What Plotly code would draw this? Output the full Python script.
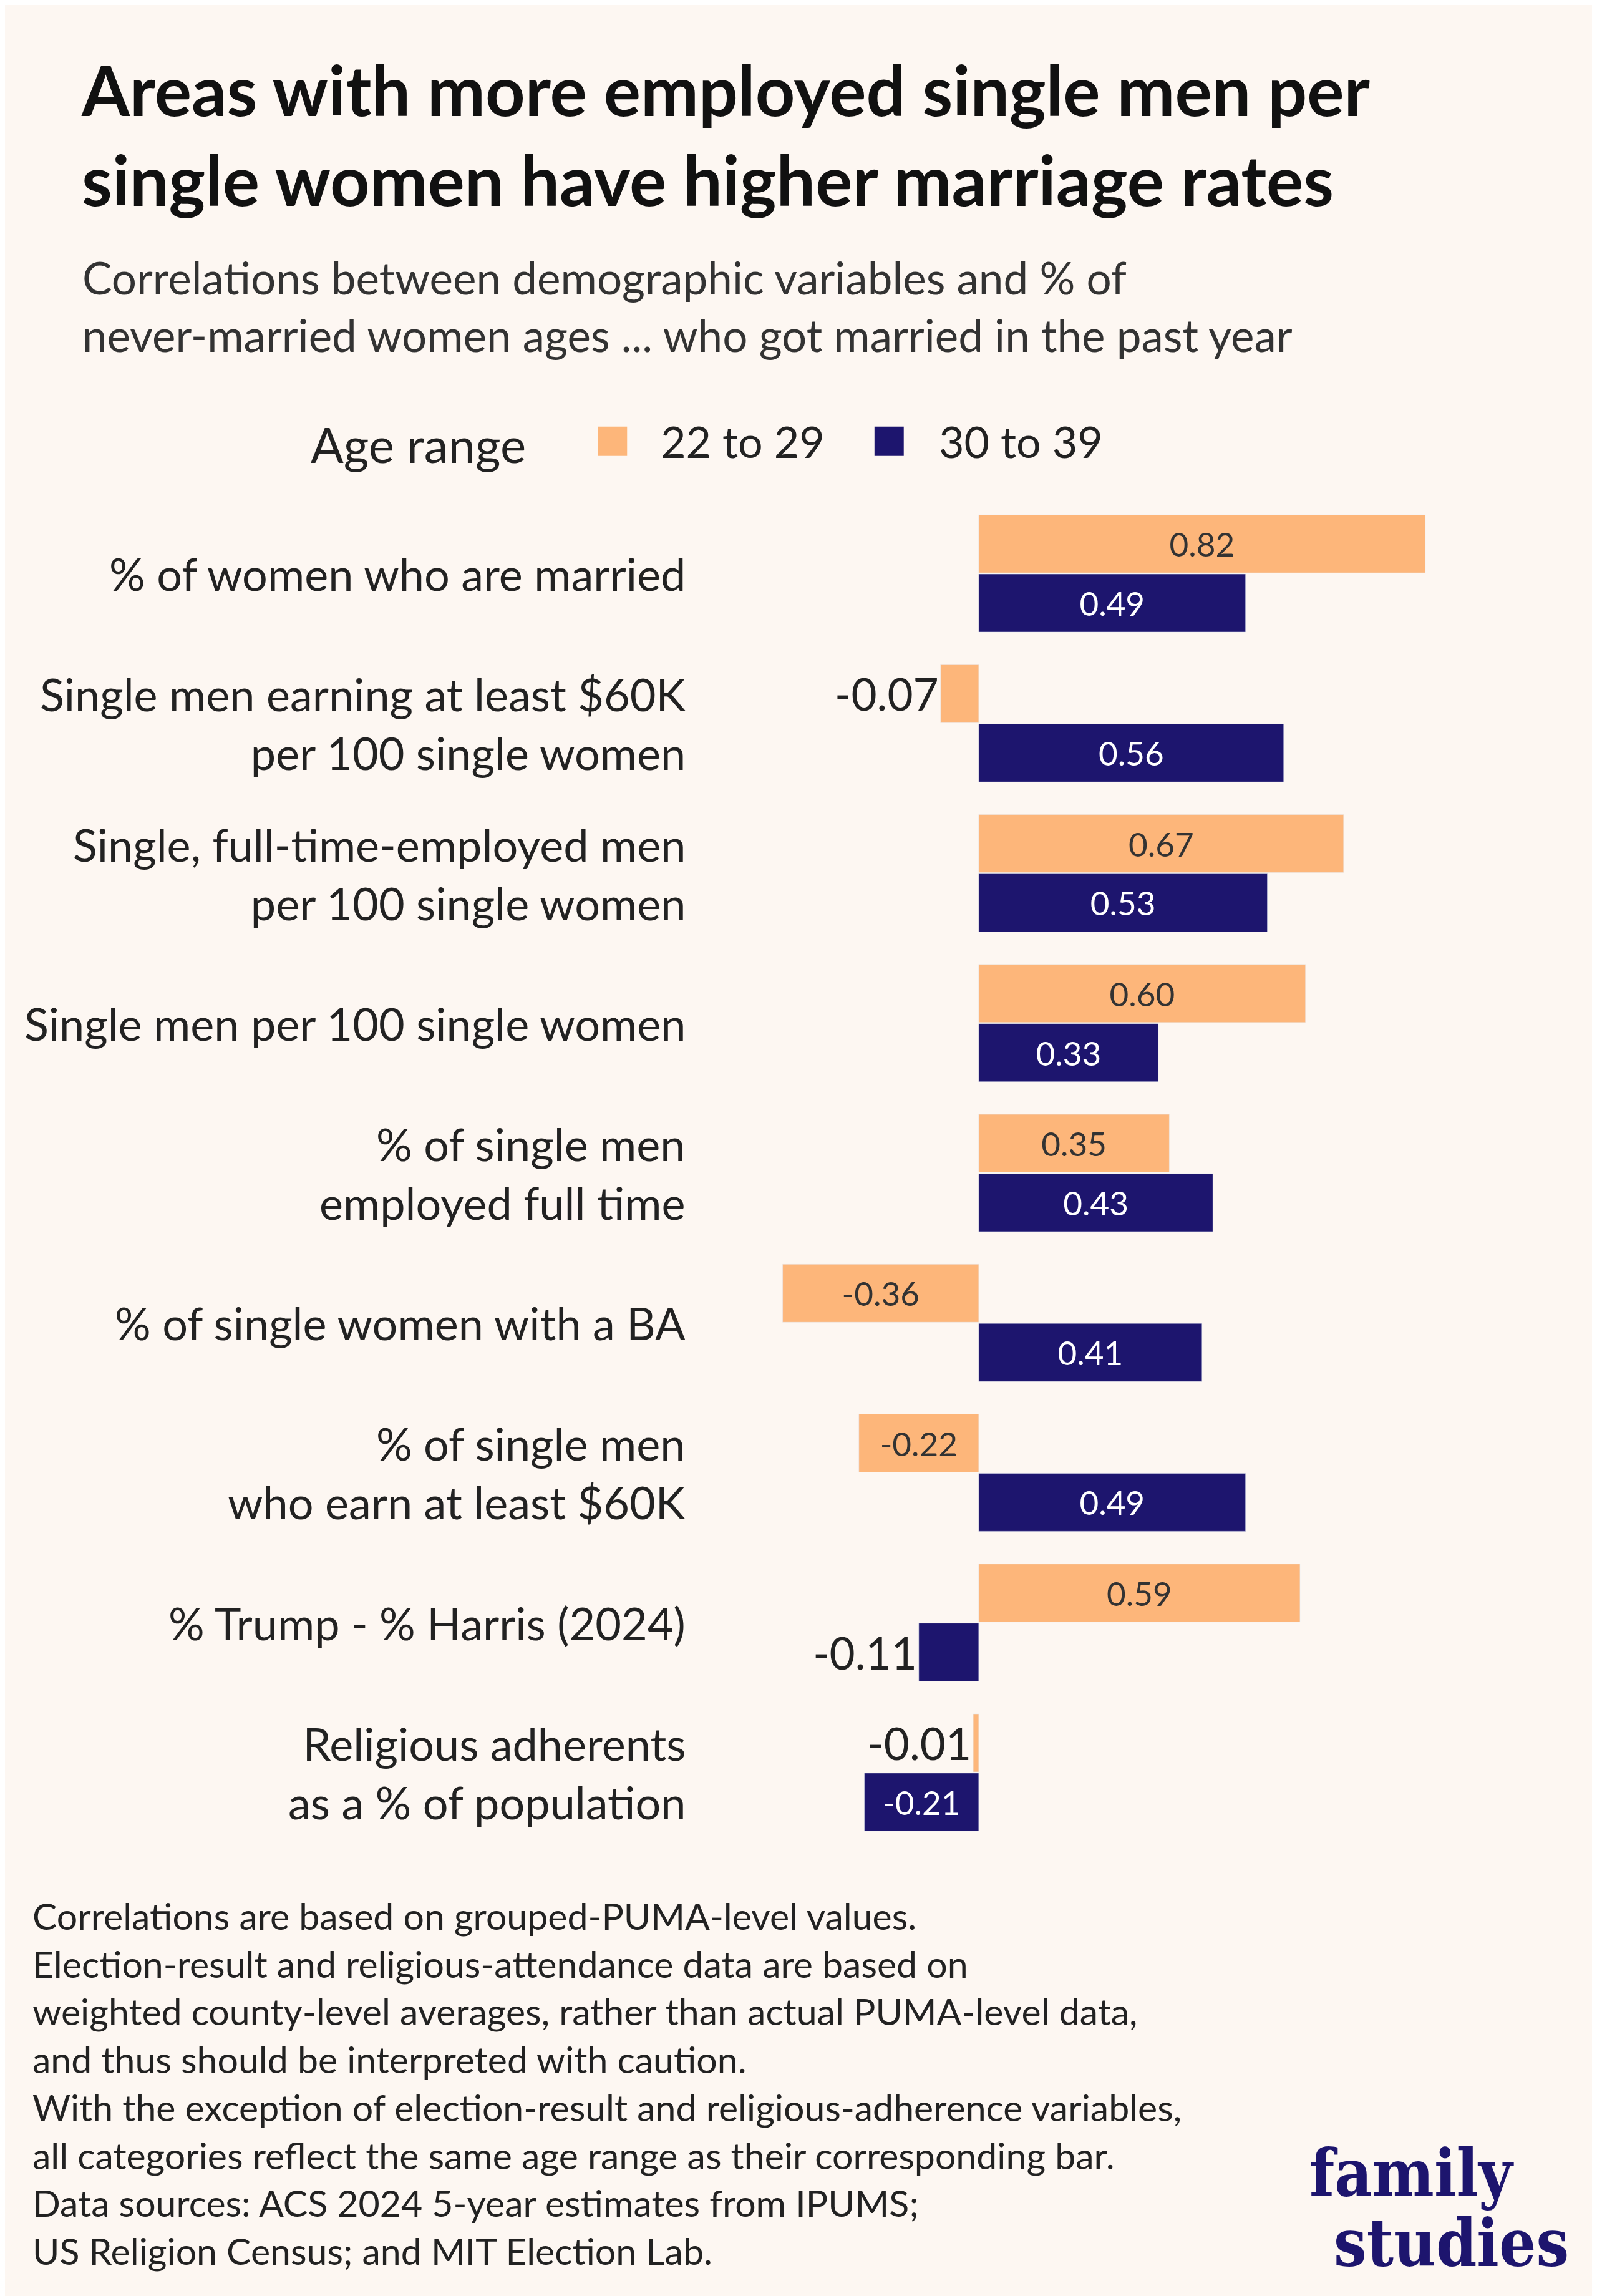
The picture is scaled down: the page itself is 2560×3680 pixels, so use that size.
import plotly.graph_objects as go

categories = ["% of women who are married",
              "Single men earning at least $60K<br>per 100 single women",
              "Single, full-time-employed men<br>per 100 single women",
              "Single men per 100 single women",
              "% of single men<br>employed full time",
              "% of single women with a BA",
              "% of single men<br>who earn at least $60K",
              "% Trump - % Harris (2024)",
              "Religious adherents<br>as a % of population"]
v22 = [0.82, -0.07, 0.67, 0.60, 0.35, -0.36, -0.22, 0.59, -0.01]
v30 = [0.49, 0.56, 0.53, 0.33, 0.43, 0.41, 0.49, -0.11, -0.21]
series_names = ["22 to 29", "30 to 39"]

W, H = 2560, 3680
L, R, T, B = 1120, 79, 791, 727
pw, ph = W - L - R, H - T - B
S = 2560 / 1091
def px(x): return (x * S - L) / pw
def py(y): return (H - B - y * S) / ph

BG = "#fdf7f2"; OR = "#fdb67a"; NV = "#1d156e"; TX = "#222222"
FONT = "Lato"
idx = list(range(len(categories)))

fig = go.Figure()
for name, vals, col, tcol in [(series_names[0], v22, OR, "#333333"), (series_names[1], v30, NV, "white")]:
    tp = ["outside" if abs(v) < 0.15 else "inside" for v in vals]
    fig.add_trace(go.Bar(
        y=idx, x=vals, orientation="h", name=name, marker_color=col, showlegend=False,
        text=[f"{v:.2f}" for v in vals], textposition=tp,
        insidetextanchor="middle", cliponaxis=False,
        insidetextfont=dict(size=53, color=tcol, family=FONT),
        outsidetextfont=dict(size=71, color=TX, family=FONT),
        constraintext="none"))

shapes = []
ann = []
ann.append(dict(x=px(208), y=py(300), xref="paper", yref="paper", xanchor="left", yanchor="middle",
                showarrow=False, text="Age range", font=dict(size=78, color=TX, family=FONT)))
for (sx, tx, name, col) in [(405, 447, series_names[0], OR), (594, 637, series_names[1], NV)]:
    shapes.append(dict(type="rect", xref="paper", yref="paper", x0=px(sx), x1=px(sx + 20),
                       y0=py(308), y1=py(288), fillcolor=col, line=dict(width=0)))
    ann.append(dict(x=px(tx), y=py(298), xref="paper", yref="paper", xanchor="left", yanchor="middle",
                    showarrow=False, text=name, font=dict(size=70, color=TX, family=FONT)))

fig.update_layout(
    width=W, height=H, paper_bgcolor=BG, plot_bgcolor=BG,
    margin=dict(l=L, r=R, t=T, b=B), barmode="group", bargap=0.21, bargroupgap=0.02,
    font=dict(family=FONT, color=TX), showlegend=False,
    xaxis=dict(range=[-0.505, 1.054], visible=False),
    yaxis=dict(range=[8.5, -0.5], visible=False),
    shapes=shapes,
)

for i, c in enumerate(categories):
    ann.append(dict(x=px(466), y=i, xref="paper", yref="y", text=c, showarrow=False,
                    xanchor="right", yanchor="middle", align="right",
                    font=dict(size=72, color=TX, family=FONT)))
ann.append(dict(x=px(51), y=py(28), xref="paper", yref="paper", xanchor="left", yanchor="top",
                align="left", showarrow=False,
                text="<b>Areas with more employed single men per<br>single women have higher marriage rates</b>",
                font=dict(size=111, color="#111111", family=FONT)))
ann.append(dict(x=px(52), y=py(167), xref="paper", yref="paper", xanchor="left", yanchor="top",
                align="left", showarrow=False,
                text="Correlations between demographic variables and % of<br>never-married women ages ... who got married in the past year",
                font=dict(size=71, color="#333333", family=FONT)))
foot = ("Correlations are based on grouped-PUMA-level values.<br>"
        "Election-result and religious-attendance data are based on<br>"
        "weighted county-level averages, rather than actual PUMA-level data,<br>"
        "and thus should be interpreted with caution.<br>"
        "With the exception of election-result and religious-adherence variables,<br>"
        "all categories reflect the same age range as their corresponding bar.<br>"
        "Data sources: ACS 2024 5-year estimates from IPUMS;<br>"
        "US Religion Census; and MIT Election Lab.")
ann.append(dict(x=px(18), y=py(1289), xref="paper", yref="paper", xanchor="left", yanchor="top",
                align="left", showarrow=False, text=foot,
                font=dict(size=59, color=TX, family=FONT)))
logo_font = "DejaVu Serif Condensed, DejaVu Serif"
ann.append(dict(x=px(961), y=py(1481), xref="paper", yref="paper", xanchor="center", yanchor="middle",
                showarrow=False, text="<b>family</b>", font=dict(size=104, color=NV, family=logo_font)))
ann.append(dict(x=px(988), y=py(1529), xref="paper", yref="paper", xanchor="center", yanchor="middle",
                showarrow=False, text="<b>studies</b>", font=dict(size=104, color=NV, family=logo_font)))
fig.update_layout(annotations=ann)
fig.write_html("out.html")
